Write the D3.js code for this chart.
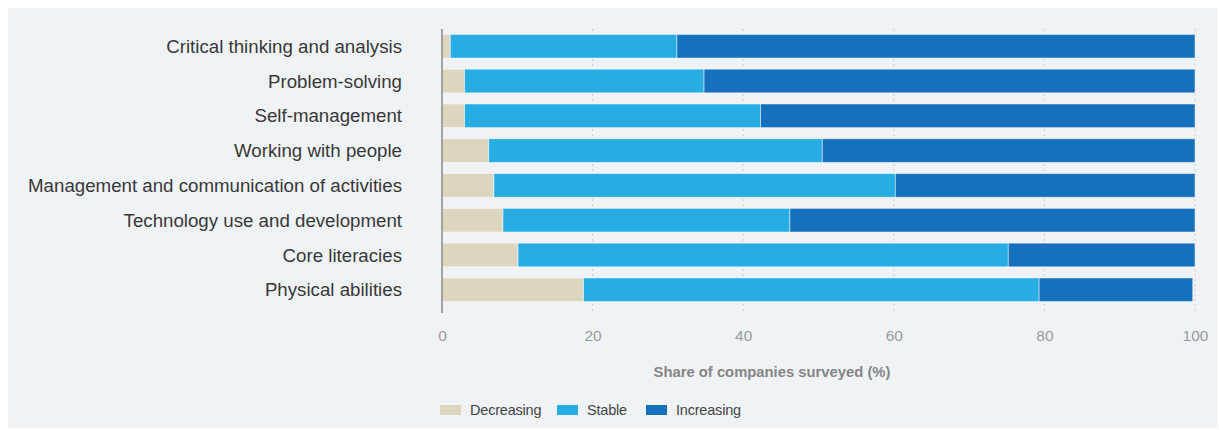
<!DOCTYPE html>
<html>
<head>
<meta charset="utf-8">
<script src="https://cdn.jsdelivr.net/npm/d3@7"></script>
<style>
  body { margin: 0; background: #fff; }
  svg { display: block; font-family: "Liberation Sans", Arial, sans-serif; }
</style>
</head>
<body>
<div id="chart"></div>
<script>
var skills = [
  'Critical thinking and analysis',
  'Problem-solving',
  'Self-management',
  'Working with people',
  'Management and communication of activities',
  'Technology use and development',
  'Core literacies',
  'Physical abilities'
]
var decreasing = [1.1, 3.0, 3.0, 6.2, 6.9, 8.1, 10.1, 18.8]
var stable = [30.1, 31.8, 39.3, 44.3, 53.3, 38.1, 65.1, 60.5]
var increasing = [68.8, 65.2, 57.7, 49.5, 39.8, 53.8, 24.8, 20.4]
var seriesNames = ['Decreasing', 'Stable', 'Increasing']
var seriesColors = ['#ddd6bf', '#27ace3', '#1571bb']
var xTicks = [0, 20, 40, 60, 80, 100]

var width = 1219
var height = 430
var margin = { left: 442, right: 24, top: 33, bottom: 127 }

var svg = d3.select('#chart').append('svg')
  .attr('width', width)
  .attr('height', height)

svg.append('rect')
  .attr('x', 8).attr('y', 8)
  .attr('width', 1209).attr('height', 420)
  .attr('fill', '#f0f3f6')

var x = d3.scaleLinear()
  .domain([0, 100])
  .range([margin.left, width - margin.right])

var y = d3.scaleBand()
  .domain(skills)
  .range([margin.top, height - margin.bottom])
  .paddingInner(0.32)
  .paddingOuter(0.04)

var gridTop = 29
var gridBottom = 313

// dotted gridlines
svg.append('g')
  .selectAll('line')
  .data(xTicks.slice(1))
  .enter().append('line')
  .attr('x1', function (d) { return x(d) })
  .attr('x2', function (d) { return x(d) })
  .attr('y1', gridTop)
  .attr('y2', gridBottom)
  .attr('stroke', '#c9ced4')
  .attr('stroke-width', 1)
  .attr('stroke-dasharray', '2,3')

var rows = skills.map(function (s, i) {
  return { skill: s, Decreasing: decreasing[i], Stable: stable[i], Increasing: increasing[i] }
})

var stacked = d3.stack().keys(seriesNames)(rows)

svg.append('g')
  .selectAll('g')
  .data(stacked)
  .enter().append('g')
  .attr('fill', function (d, i) { return seriesColors[i] })
  .selectAll('rect')
  .data(function (d) { return d })
  .enter().append('rect')
  .attr('x', function (d) { return x(d[0]) })
  .attr('width', function (d) { return x(d[1]) - x(d[0]) })
  .attr('y', function (d) { return y(d.data.skill) })
  .attr('height', y.bandwidth())
  .attr('stroke', '#ffffff')
  .attr('stroke-opacity', 0.6)
  .attr('stroke-width', 0.8)

// vertical axis line
svg.append('line')
  .attr('x1', x(0)).attr('x2', x(0))
  .attr('y1', gridTop).attr('y2', gridBottom)
  .attr('stroke', '#8a8a8a')
  .attr('stroke-width', 1.5)

// category labels
svg.append('g')
  .selectAll('text')
  .data(skills)
  .enter().append('text')
  .attr('x', 402)
  .attr('y', function (d) { return y(d) + y.bandwidth() / 2 })
  .attr('dy', '0.35em')
  .attr('text-anchor', 'end')
  .attr('font-size', 18.7)
  .attr('fill', '#383838')
  .text(function (d) { return d })

// tick labels
var xAxis = d3.axisBottom(x).tickValues(xTicks).tickSize(0).tickPadding(0)
var axisG = svg.append('g')
  .attr('transform', 'translate(0,' + 341 + ')')
  .call(xAxis)
axisG.select('.domain').remove()
axisG.selectAll('text')
  .attr('font-size', 15.5)
  .attr('fill', '#9a9a9a')
  .attr('font-family', '"Liberation Sans", Arial, sans-serif')
  .attr('dy', 0)
  .attr('y', 0)

svg.append('text')
  .attr('x', 772)
  .attr('y', 377)
  .attr('text-anchor', 'middle')
  .attr('font-size', 14.8)
  .attr('font-weight', 'bold')
  .attr('fill', '#858585')
  .text('Share of companies surveyed (%)')

// legend
var legendX = [440, 557, 646]
var legend = svg.append('g')
  .selectAll('g')
  .data(seriesNames)
  .enter().append('g')
  .attr('transform', function (d, i) { return 'translate(' + legendX[i] + ',405)' })

legend.append('rect')
  .attr('width', 21)
  .attr('height', 10)
  .attr('fill', function (d, i) { return seriesColors[i] })

legend.append('text')
  .attr('x', 30)
  .attr('y', 5)
  .attr('dy', '0.35em')
  .attr('font-size', 14.5)
  .attr('letter-spacing', -0.2)
  .attr('fill', '#444')
  .text(function (d) { return d })
</script>
</body>
</html>
